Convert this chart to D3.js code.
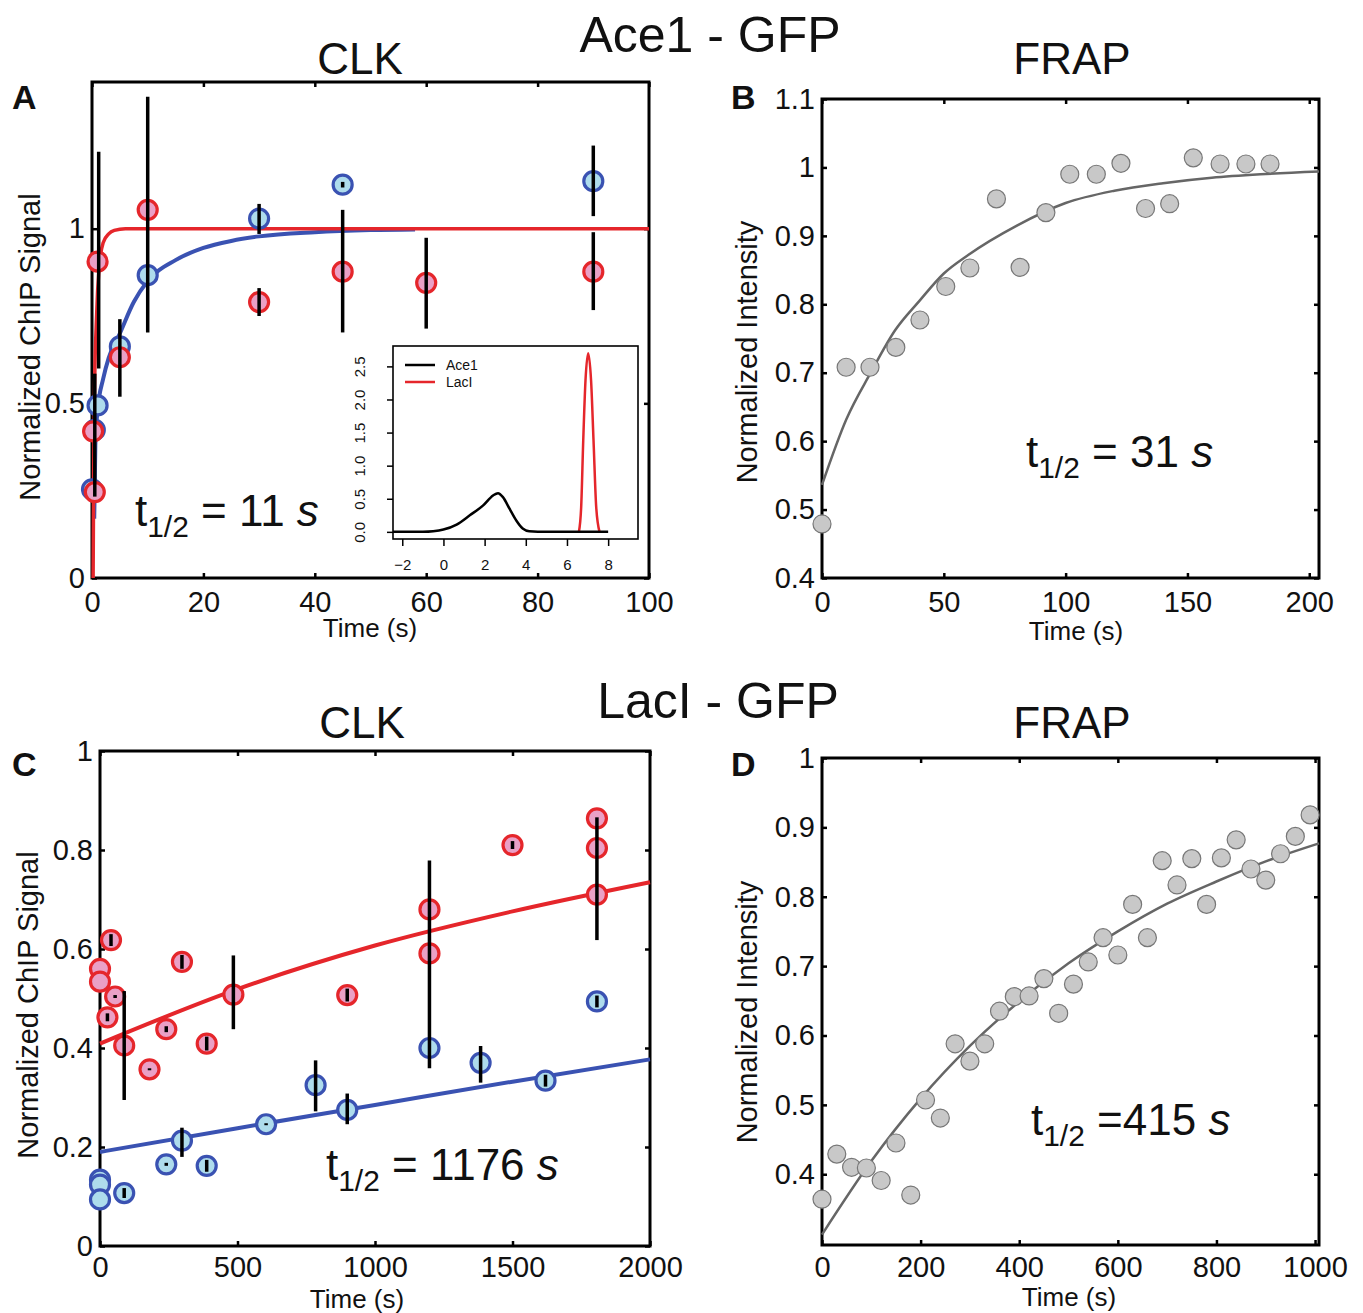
<!DOCTYPE html>
<html>
<head>
<meta charset="utf-8">
<script src="https://cdn.jsdelivr.net/npm/d3@7"></script>
<style>
  body { margin: 0; background: #fff; }
  text { font-family: "Liberation Sans", Arial, Helvetica, sans-serif; fill: #111; }
</style>
</head>
<body>
<script>
// ---- Panel A : Ace1 CLK ----
const aXTicks = [0, 20, 40, 60, 80, 100];
const aYTicks = [0, 0.5, 1];
const aBlueT = [0, 0.5, 1, 5, 10, 30, 45, 90];
const aBlueY = [0.254, 0.424, 0.494, 0.663, 0.867, 1.029, 1.126, 1.136];
const aRedT = [0.5, 0.2, 1, 5, 10, 30, 45, 60, 90];
const aRedY = [0.246, 0.42, 0.906, 0.632, 1.054, 0.79, 0.877, 0.845, 0.877];
const aBarT = [0.5, 1.2, 5, 10, 30, 30, 45, 45, 60, 90, 90];
const aBarLo = [0.233, 0.60, 0.519, 0.703, 0.985, 0.75, 1.118, 0.703, 0.714, 1.036, 0.767];
const aBarHi = [0.585, 1.22, 0.741, 1.378, 1.071, 0.83, 1.134, 1.054, 0.974, 1.238, 0.990];
const aRedFitT = [0.2, 0.3, 0.5, 0.75, 1, 1.5, 2, 3, 4, 6, 100];
const aRedFitY = [0, 0.3, 0.58, 0.72, 0.82, 0.92, 0.96, 0.985, 0.995, 1, 1];
const aBlueFitT = [0.4, 0.6, 1, 2, 3, 5, 7.5, 10, 15, 20, 25, 30, 40, 50, 58];
const aBlueFitY = [0.17, 0.38, 0.48, 0.57, 0.63, 0.70, 0.79, 0.85, 0.91, 0.945, 0.965, 0.978, 0.99, 0.996, 0.998];

// inset (residence time densities)
const insetXTicks = [-2, 0, 2, 4, 6, 8];
const insetYTicks = [0, 0.5, 1, 1.5, 2, 2.5];
const insetAceX = [-2.45, -1, -0.5, 0, 0.64, 1.28, 1.93, 2.41, 2.65, 2.89, 3.21, 3.53, 3.85, 4.17, 5, 8];
const insetAceY = [0, 0.002, 0.01, 0.035, 0.11, 0.25, 0.40, 0.55, 0.585, 0.525, 0.35, 0.175, 0.05, 0.01, 0, 0];
const insetLacX = [6.58, 6.69, 6.79, 6.9, 7.03, 7.17, 7.29, 7.42, 7.58];
const insetLacY = [0, 0.375, 1.38, 2.29, 2.7, 2.29, 1.38, 0.375, 0];

// ---- Panel B : Ace1 FRAP ----
const bXTicks = [0, 50, 100, 150, 200];
const bYTicks = [0.4, 0.5, 0.6, 0.7, 0.8, 0.9, 1, 1.1];
const bT = [0, 9.9, 19.7, 30.3, 40.2, 50.8, 60.7, 71.6, 81.3, 91.9, 101.7, 112.6, 122.7, 132.8, 142.7, 152.4, 163.4, 174, 183.9];
const bY = [0.479, 0.708, 0.708, 0.737, 0.777, 0.826, 0.853, 0.954, 0.854, 0.934, 0.990, 0.990, 1.006, 0.940, 0.947, 1.014, 1.005, 1.005, 1.005];
const bFitT = [0, 10, 20, 30, 40, 50, 60, 80, 100, 120, 140, 160, 180, 204];
const bFitY = [0.536, 0.632, 0.70, 0.762, 0.805, 0.845, 0.872, 0.915, 0.948, 0.966, 0.977, 0.985, 0.990, 0.994];

// ---- Panel C : LacI CLK ----
const cXTicks = [0, 500, 1000, 1500, 2000];
const cYTicks = [0, 0.2, 0.4, 0.6, 0.8, 1];
const cRedT = [0, 0, 40, 55, 27, 88, 180, 241, 298, 388, 485, 899, 1198, 1198, 1500, 1807, 1807, 1807];
const cRedY = [0.56, 0.534, 0.618, 0.504, 0.462, 0.405, 0.357, 0.438, 0.574, 0.409, 0.508, 0.507, 0.680, 0.591, 0.810, 0.864, 0.804, 0.710];
const cRedBarT = [40, 55, 27, 88, 180, 241, 298, 388, 485, 899, 1198, 1500, 1807];
const cRedBarLo = [0.606, 0.501, 0.454, 0.295, 0.355, 0.432, 0.560, 0.395, 0.438, 0.494, 0.359, 0.802, 0.618];
const cRedBarHi = [0.630, 0.507, 0.470, 0.515, 0.359, 0.444, 0.588, 0.423, 0.587, 0.520, 0.779, 0.818, 0.866];
const cBlueT = [0, 0, 0, 88, 241, 298, 388, 604, 784, 899, 1198, 1384, 1620, 1807];
const cBlueY = [0.134, 0.124, 0.094, 0.107, 0.165, 0.213, 0.162, 0.246, 0.325, 0.275, 0.40, 0.37, 0.334, 0.494];
const cBlueBarT = [88, 241, 298, 388, 604, 784, 899, 1384, 1620, 1807];
const cBlueBarLo = [0.097, 0.162, 0.180, 0.150, 0.244, 0.272, 0.246, 0.330, 0.322, 0.482];
const cBlueBarHi = [0.117, 0.168, 0.239, 0.174, 0.248, 0.375, 0.308, 0.404, 0.346, 0.506];
const cRedFitT = [0, 500, 1000, 1500, 2000];
const cRedFitY = [0.409, 0.519, 0.607, 0.676, 0.735];
const cBlueFitT = [0, 500, 1000, 1500, 2000];
const cBlueFitY = [0.19, 0.238, 0.285, 0.332, 0.377];

// ---- Panel D : LacI FRAP ----
const dXTicks = [0, 200, 400, 600, 800, 1000];
const dYTicks = [0.4, 0.5, 0.6, 0.7, 0.8, 0.9, 1];
const dT = [0, 30, 60, 90, 120, 150, 180, 210, 240, 270, 300, 330, 360, 390, 420, 450, 480, 510, 540, 570, 600, 630, 660, 690, 720, 750, 780, 810, 840, 870, 900, 930, 960, 990];
const dY = [0.364, 0.429, 0.410, 0.409, 0.391, 0.445, 0.370, 0.507, 0.481, 0.588, 0.563, 0.588, 0.635, 0.656, 0.657, 0.682, 0.632, 0.674, 0.706, 0.741, 0.716, 0.789, 0.741, 0.852, 0.817, 0.855, 0.789, 0.856, 0.882, 0.840, 0.824, 0.862, 0.887, 0.918];
const dFitT = [0, 100, 200, 300, 400, 500, 600, 700, 800, 900, 1008];
const dFitY = [0.313, 0.419, 0.509, 0.585, 0.649, 0.704, 0.750, 0.790, 0.822, 0.851, 0.877];

const RED = "#e5262b", PINK = "#eaa0c6", BLUE = "#3a52b2", CYAN = "#aedcec";

const svg = d3.select("body").append("svg")
  .attr("width", 1363)
  .attr("height", 1313);

// Matlab-like axes box with inward ticks on all four sides
function makePanel(p) {
  const x = d3.scaleLinear().domain(p.xDom).range([p.left, p.right]);
  const y = d3.scaleLinear().domain(p.yDom).range([p.bottom, p.top]);
  const g = svg.append("g");
  const tk = 5;
  const style = sel => {
    sel.select(".domain").remove();
    sel.selectAll("line").attr("stroke", "#000").attr("stroke-width", 2.5);
    sel.selectAll("text").attr("font-size", 29).style("fill", "#111");
    sel.attr("font-family", null).attr("font-size", null);
  };
  g.append("g").attr("transform", `translate(0,${p.bottom})`)
    .call(d3.axisBottom(x).tickValues(p.xTicks).tickSize(-tk).tickPadding(p.xPad || 13).tickFormat(d => String(d)))
    .call(style);
  g.append("g").attr("transform", `translate(0,${p.top})`)
    .call(d3.axisTop(x).tickValues(p.xTicks).tickSize(-tk).tickFormat(""))
    .call(style);
  g.append("g").attr("transform", `translate(${p.left},0)`)
    .call(d3.axisLeft(y).tickValues(p.yTicks).tickSize(-tk).tickPadding(7).tickFormat(d => String(d)))
    .call(style);
  g.append("g").attr("transform", `translate(${p.right},0)`)
    .call(d3.axisRight(y).tickValues(p.yTicks).tickSize(-tk).tickFormat(""))
    .call(style);
  g.append("rect")
    .attr("x", p.left).attr("y", p.top)
    .attr("width", p.right - p.left).attr("height", p.bottom - p.top)
    .attr("fill", "none").attr("stroke", "#000").attr("stroke-width", 3);
  return { x, y, g };
}

function fitLine(pn, ts, vs, color, width) {
  const line = d3.line().x(d => pn.x(d[0])).y(d => pn.y(d[1])).curve(d3.curveMonotoneX);
  pn.g.append("path")
    .datum(ts.map((t, i) => [t, vs[i]]))
    .attr("d", line)
    .attr("fill", "none")
    .attr("stroke", color)
    .attr("stroke-width", width)
    .attr("stroke-linejoin", "round");
}

function rings(pn, ts, vs, fill, stroke, r, sw) {
  pn.g.selectAll(null)
    .data(ts.map((t, i) => [t, vs[i]]))
    .enter()
    .append("circle")
    .attr("cx", d => pn.x(d[0]))
    .attr("cy", d => pn.y(d[1]))
    .attr("r", r)
    .attr("fill", fill)
    .attr("stroke", stroke)
    .attr("stroke-width", sw);
}

function bars(pn, ts, lo, hi) {
  pn.g.selectAll(null)
    .data(ts.map((t, i) => [t, lo[i], hi[i]]))
    .enter()
    .append("line")
    .attr("x1", d => pn.x(d[0])).attr("x2", d => pn.x(d[0]))
    .attr("y1", d => pn.y(d[1])).attr("y2", d => pn.y(d[2]))
    .attr("stroke", "#000")
    .attr("stroke-width", 3.5);
}

function label(x, y, txt, size) {
  return svg.append("text").attr("x", x).attr("y", y)
    .attr("font-size", size).attr("text-anchor", "middle").text(txt);
}

function yLabel(cx, cy, txt) {
  svg.append("text")
    .attr("transform", `translate(${cx},${cy}) rotate(-90)`)
    .attr("text-anchor", "middle")
    .attr("dy", "0.35em")
    .attr("font-size", 29)
    .text(txt);
}

function halfLife(x, y, size, mid) {
  const t = svg.append("text").attr("x", x).attr("y", y)
    .attr("font-size", size).style("white-space", "pre");
  t.append("tspan").text("t");
  t.append("tspan").attr("font-size", size * 0.68).attr("dy", size * 0.25).text("1/2");
  t.append("tspan").attr("dy", -size * 0.25).text(mid);
  t.append("tspan").attr("font-style", "italic").text("s");
}

// ---------- Panel A ----------
const pA = makePanel({ left: 92, right: 649, top: 82, bottom: 578,
  xDom: [0, 100], yDom: [0, 1.42], xTicks: aXTicks, yTicks: aYTicks });
fitLine(pA, aBlueFitT, aBlueFitY, BLUE, 4);
fitLine(pA, aRedFitT, aRedFitY, RED, 3.5);
rings(pA, aBlueT, aBlueY, CYAN, BLUE, 9.5, 3.2);
rings(pA, aRedT, aRedY, PINK, RED, 9.5, 3.2);
bars(pA, aBarT, aBarLo, aBarHi);

// inset
const ix = d3.scaleLinear().domain([-2.45, 9.45]).range([393, 638]);
const iy = d3.scaleLinear().domain([-0.108, 2.808]).range([539, 346]);
const ins = svg.append("g");
ins.append("rect").attr("x", 393).attr("y", 346).attr("width", 245).attr("height", 193)
  .attr("fill", "#fff").attr("stroke", "#000").attr("stroke-width", 1.6);
ins.append("g").attr("transform", "translate(0,539)")
  .call(d3.axisBottom(ix).tickValues(insetXTicks).tickSize(7).tickPadding(13)
    .tickFormat(d => d < 0 ? "\u2212" + Math.abs(d) : String(d)))
  .call(sel => {
    sel.select(".domain").remove();
    sel.selectAll("line").attr("stroke-width", 1.5);
    sel.selectAll("text").attr("font-size", 15);
    sel.attr("font-family", null).attr("font-size", null);
  });
ins.append("g").attr("transform", "translate(393,0)")
  .call(d3.axisLeft(iy).tickValues(insetYTicks).tickSize(6).tickFormat(d3.format(".1f")))
  .call(sel => {
    sel.select(".domain").remove();
    sel.selectAll("line").attr("stroke-width", 1.5);
    sel.selectAll("text")
      .attr("font-size", 15)
      .attr("x", 0).attr("y", -28).attr("dy", null)
      .attr("text-anchor", "middle")
      .attr("transform", "rotate(-90)");
    sel.attr("font-family", null).attr("font-size", null);
  });
const iline = d3.line().x(d => ix(d[0])).y(d => iy(d[1])).curve(d3.curveMonotoneX);
ins.append("path").datum(insetLacX.map((v, i) => [v, insetLacY[i]]))
  .attr("d", iline).attr("fill", "none").attr("stroke", RED).attr("stroke-width", 2.5);
ins.append("path").datum(insetAceX.map((v, i) => [v, insetAceY[i]]))
  .attr("d", iline).attr("fill", "none").attr("stroke", "#000").attr("stroke-width", 2.5);
// legend
ins.append("line").attr("x1", 405).attr("x2", 435).attr("y1", 365).attr("y2", 365)
  .attr("stroke", "#000").attr("stroke-width", 2.5);
ins.append("line").attr("x1", 405).attr("x2", 435).attr("y1", 382).attr("y2", 382)
  .attr("stroke", RED).attr("stroke-width", 2.5);
ins.append("text").attr("x", 446).attr("y", 365).attr("dy", "0.35em").attr("font-size", 14).text("Ace1");
ins.append("text").attr("x", 446).attr("y", 382).attr("dy", "0.35em").attr("font-size", 14).text("LacI");

// ---------- Panel B ----------
const pB = makePanel({ left: 822, right: 1319, top: 99, bottom: 578,
  xDom: [0, 204], yDom: [0.4, 1.1], xTicks: bXTicks, yTicks: bYTicks });
fitLine(pB, bFitT, bFitY, "#666", 2.5);
rings(pB, bT, bY, "#c8c8c8", "#777", 9, 1.2);

// ---------- Panel C ----------
const pC = makePanel({ left: 100, right: 650, top: 751, bottom: 1246,
  xDom: [0, 2000], yDom: [0, 1], xTicks: cXTicks, yTicks: cYTicks, xPad: 10 });
fitLine(pC, cBlueFitT, cBlueFitY, BLUE, 4);
fitLine(pC, cRedFitT, cRedFitY, RED, 4);
rings(pC, cBlueT, cBlueY, CYAN, BLUE, 9.5, 3.2);
rings(pC, cRedT, cRedY, PINK, RED, 9.5, 3.2);
bars(pC, cRedBarT, cRedBarLo, cRedBarHi);
bars(pC, cBlueBarT, cBlueBarLo, cBlueBarHi);

// ---------- Panel D ----------
const pD = makePanel({ left: 822, right: 1319, top: 758, bottom: 1245,
  xDom: [0, 1008], yDom: [0.298, 1], xTicks: dXTicks, yTicks: dYTicks, xPad: 11 });
fitLine(pD, dFitT, dFitY, "#666", 2.5);
rings(pD, dT, dY, "#c8c8c8", "#777", 9, 1.2);

// ---------- texts ----------
label(710, 52, "Ace1 - GFP", 50);
label(718, 718, "LacI - GFP", 50);
label(360, 74, "CLK", 44);
label(362, 738, "CLK", 44);
label(1072, 74, "FRAP", 44);
label(1072, 738, "FRAP", 44);
[["A", 12, 109], ["B", 731, 109], ["C", 12, 776], ["D", 731, 776]].forEach(d => {
  svg.append("text").attr("x", d[1]).attr("y", d[2]).attr("font-size", 34)
    .attr("font-weight", "bold").text(d[0]);
});
yLabel(30, 347, "Normalized ChIP Signal");
yLabel(28, 1005, "Normalized ChIP Signal");
yLabel(747, 352, "Normalized Intensity");
yLabel(747, 1012, "Normalized Intensity");
label(370, 637, "Time (s)", 26);
label(1076, 640, "Time (s)", 26);
label(357, 1308, "Time (s)", 26);
label(1069, 1306, "Time (s)", 26);
halfLife(135, 526, 44, " = 11 ");
halfLife(1026, 467, 44, " = 31 ");
halfLife(326, 1180, 44, " = 1176 ");
halfLife(1031, 1135, 44, " =415 ");
</script>
</body>
</html>
